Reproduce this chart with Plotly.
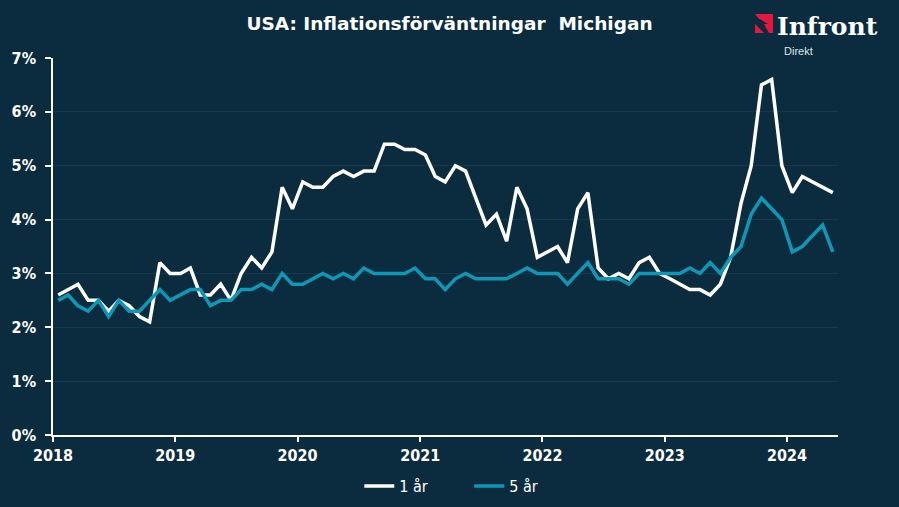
import pandas as pd
import plotly.graph_objects as go

# ---- data ----
start_month = "2018-01-01"
n_months = 77
one_year = [2.6, 2.7, 2.8, 2.5, 2.5, 2.3, 2.5, 2.4, 2.2, 2.1, 3.2, 3.0,
            3.0, 3.1, 2.6, 2.6, 2.8, 2.5, 3.0, 3.3, 3.1, 3.4, 4.6, 4.2,
            4.7, 4.6, 4.6, 4.8, 4.9, 4.8, 4.9, 4.9, 5.4, 5.4, 5.3, 5.3,
            5.2, 4.8, 4.7, 5.0, 4.9, 4.4, 3.9, 4.1, 3.6, 4.6, 4.2, 3.3,
            3.4, 3.5, 3.2, 4.2, 4.5, 3.1, 2.9, 3.0, 2.9, 3.2, 3.3, 3.0,
            2.9, 2.8, 2.7, 2.7, 2.6, 2.8, 3.3, 4.3, 5.0, 6.5, 6.6, 5.0,
            4.5, 4.8, 4.7, 4.6, 4.5]
five_year = [2.5, 2.6, 2.4, 2.3, 2.5, 2.2, 2.5, 2.3, 2.3, 2.5, 2.7, 2.5,
             2.6, 2.7, 2.7, 2.4, 2.5, 2.5, 2.7, 2.7, 2.8, 2.7, 3.0, 2.8,
             2.8, 2.9, 3.0, 2.9, 3.0, 2.9, 3.1, 3.0, 3.0, 3.0, 3.0, 3.1,
             2.9, 2.9, 2.7, 2.9, 3.0, 2.9, 2.9, 2.9, 2.9, 3.0, 3.1, 3.0,
             3.0, 3.0, 2.8, 3.0, 3.2, 2.9, 2.9, 2.9, 2.8, 3.0, 3.0, 3.0,
             3.0, 3.0, 3.1, 3.0, 3.2, 3.0, 3.3, 3.5, 4.1, 4.4, 4.2, 4.0,
             3.4, 3.5, 3.7, 3.9, 3.4]
series_names = ["1 år", "5 år"]
title_text = "USA: Inflationsförväntningar  Michigan"

# mid-month positions
starts = pd.date_range(start_month, periods=n_months + 1, freq="MS")
dates = [starts[i] + (starts[i + 1] - starts[i]) / 2 for i in range(n_months)]

BG = "#0b2c3f"
TEAL = "#0d99b6"
FONT = "DejaVu Sans Condensed"

fig = go.Figure()
fig.add_trace(go.Scatter(x=dates, y=one_year, name=series_names[0], mode="lines",
                         line=dict(color="white", width=3.5)))
fig.add_trace(go.Scatter(x=dates, y=five_year, name=series_names[1], mode="lines",
                         line=dict(color=TEAL, width=3.5)))

L, R, T, B = 53, 61, 58, 72
W, H = 899, 507
pw, ph = W - L - R, H - T - B

def px(x):
    return (x - L) / pw

def py(y):
    return (H - B - y) / ph

fig.update_layout(
    width=W, height=H,
    margin=dict(l=L, r=R, t=T, b=B, autoexpand=False),
    paper_bgcolor=BG, plot_bgcolor=BG,
    font=dict(family=FONT, color="white", size=16),
    title=dict(text="<b>" + title_text + "</b>", xref="container", x=0.5, xanchor="center",
               yref="container", y=1 - 24 / H, yanchor="middle",
               font=dict(family="DejaVu Sans", size=18.5, color="white")),
    showlegend=True,
    legend=dict(orientation="h", xref="container", x=0.522, xanchor="center",
                yref="container", y=1 - 486 / H, yanchor="middle",
                font=dict(family=FONT, size=16, color="white"),
                itemwidth=30, entrywidth=65, bgcolor="rgba(0,0,0,0)"),
    xaxis=dict(type="date", range=[starts[0], starts[-1]], tick0=start_month, dtick="M12",
               tickformat="%Y", showgrid=False, zeroline=False, automargin=False,
               showline=True, linecolor="white", linewidth=1.5,
               ticks="outside", ticklen=5, tickcolor="white", tickwidth=1.5,
               tickfont=dict(family=FONT, size=16, color="white", weight="bold")),
    yaxis=dict(range=[0, 7], dtick=1, tick0=0, ticksuffix="%", showgrid=True,
               gridcolor="#15384c", gridwidth=1, zeroline=False, automargin=False,
               showline=True, linecolor="white", linewidth=1.5,
               ticks="outside", ticklen=6, tickcolor="white", tickwidth=1.5,
               ticklabelstandoff=6,
               tickfont=dict(family=FONT, size=16, color="white", weight="bold")),
)

# logo
RED = "#e8173f"
def poly(pts):
    return "M " + " L ".join(f"{px(a):.5f},{py(b):.5f}" for a, b in pts) + " Z"

for pts in [
    [(755, 14), (773, 14), (773, 19), (759, 19)],
    [(760, 19), (773, 19), (773, 27)],
    [(755, 24), (764, 33), (755, 33)],
    [(764, 24), (773, 24), (773, 33), (769, 33)],
]:
    fig.add_shape(type="path", path=poly(pts), xref="paper", yref="paper",
                  fillcolor=RED, line=dict(width=0), layer="above")

fig.add_annotation(text="<b>Infront</b>", xref="paper", yref="paper", x=px(775), y=py(26),
                   xanchor="left", yanchor="middle", showarrow=False,
                   font=dict(family="DejaVu Serif", size=25, color="white"))
fig.add_annotation(text="Direkt", xref="paper", yref="paper", x=px(782), y=py(51),
                   xanchor="left", yanchor="middle", showarrow=False,
                   font=dict(family="Liberation Sans", size=11, color="#dfe6ea"))

fig.write_html("out.html", config={"displayModeBar": False},
               post_script="document.body.style.margin='0';"
                           "document.body.style.background='" + BG + "';")
